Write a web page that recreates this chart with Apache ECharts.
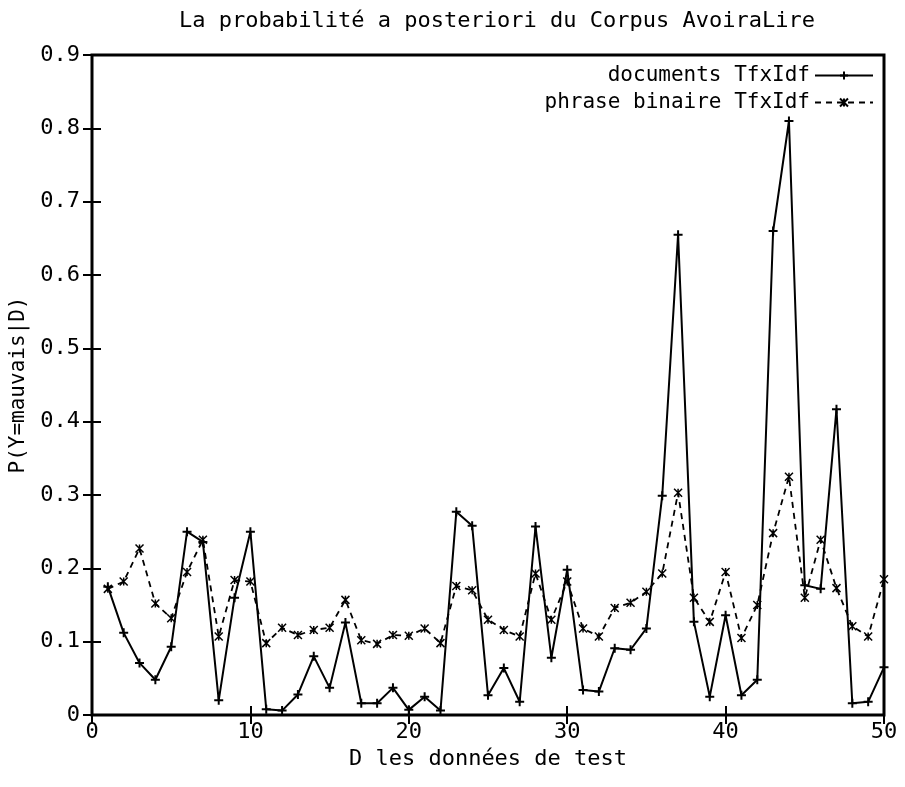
<!DOCTYPE html>
<html>
<head>
<meta charset="utf-8">
<script src="https://cdn.jsdelivr.net/npm/echarts@6/dist/echarts.min.js"></script>
<style>html,body{margin:0;padding:0;background:#fff;}#c{width:905px;height:787px;}</style>
</head>
<body>
<div id="c"></div>
<script>
const xValues = [1,2,3,4,5,6,7,8,9,10,11,12,13,14,15,16,17,18,19,20,21,22,23,24,25,26,27,28,29,30,31,32,33,34,35,36,37,38,39,40,41,42,43,44,45,46,47,48,49,50];
const documentsTfxIdf = [0.175,0.112,0.071,0.048,0.093,0.25,0.236,0.02,0.16,0.25,0.008,0.006,0.028,0.08,0.037,0.126,0.016,0.016,0.037,0.007,0.025,0.006,0.277,0.258,0.027,0.064,0.018,0.257,0.078,0.198,0.034,0.032,0.091,0.089,0.118,0.299,0.655,0.127,0.025,0.136,0.027,0.048,0.66,0.81,0.177,0.172,0.417,0.016,0.018,0.065];
const phraseBinaireTfxIdf = [0.172,0.182,0.227,0.152,0.132,0.195,0.239,0.107,0.184,0.182,0.098,0.119,0.109,0.116,0.119,0.157,0.102,0.097,0.109,0.108,0.118,0.098,0.176,0.17,0.13,0.116,0.107,0.193,0.13,0.182,0.118,0.107,0.146,0.153,0.168,0.193,0.303,0.16,0.127,0.195,0.105,0.15,0.248,0.325,0.16,0.239,0.173,0.121,0.107,0.185];
const seriesNames = ['documents TfxIdf','phrase binaire TfxIdf'];
const yTicks = [0,0.1,0.2,0.3,0.4,0.5,0.6,0.7,0.8,0.9];
const xTicks = [0,10,20,30,40,50];

const FONT = 'DejaVu Sans Mono';
const plusSym = 'path://M5,0L5,10M0,5L10,5';
const crossSym = 'path://M0,0L10,10M10,0L0,10M5,0L5,10';

const chart = echarts.init(document.getElementById('c'), null, {renderer:'canvas'});
const pairs = (ys) => xValues.map((x,i)=>[x, ys[i]]);
chart.setOption({
  backgroundColor:'#fff',
  animation:false,
  title:{text:'La probabilité a posteriori du Corpus AvoiraLire', left:492, textAlign:'center', top:5,
    textStyle:{fontFamily:FONT, fontSize:22, fontWeight:'normal', color:'#000'}},
  grid:{left:92, right:21, top:55, bottom:72, show:true, borderColor:'#000', borderWidth:3, backgroundColor:'transparent'},
  legend:{
    orient:'vertical', right:26, top:60, align:'right', itemWidth:58, itemHeight:10, itemGap:6,
    textStyle:{fontFamily:FONT, fontSize:21, color:'#000', padding:[0,0,0,0]},
    data:seriesNames
  },
  xAxis:[{
    type:'value', min:0, max:50, interval:10,
    axisLine:{show:false},
    axisTick:{show:true, inside:true, length:9, lineStyle:{color:'#000', width:2}},
    axisLabel:{fontFamily:FONT, fontSize:22, color:'#000', margin:6},
    splitLine:{show:false},
    name:'D les données de test', nameLocation:'middle', nameGap:25,
    nameTextStyle:{fontFamily:FONT, fontSize:22, color:'#000'}
  },{
    type:'value', position:'top', min:0, max:50, interval:10,
    axisLine:{show:false}, axisLabel:{show:false}, splitLine:{show:false},
    axisTick:{show:true, inside:true, length:9, lineStyle:{color:'#000', width:2}}
  }],
  yAxis:[{
    type:'value', min:0, max:0.9, interval:0.1,
    axisLine:{show:false},
    axisTick:{show:true, inside:true, length:9, lineStyle:{color:'#000', width:2}},
    axisLabel:{fontFamily:FONT, fontSize:22, color:'#000', margin:12, formatter:(v)=> (Math.round(v*10)/10).toString()},
    splitLine:{show:false},
    name:'P(Y=mauvais|D)', nameLocation:'middle', nameRotate:90, nameGap:62,
    nameTextStyle:{fontFamily:FONT, fontSize:21, color:'#000'}
  },{
    type:'value', position:'right', min:0, max:0.9, interval:0.1,
    axisLine:{show:false}, axisLabel:{show:false}, splitLine:{show:false},
    axisTick:{show:true, inside:true, length:9, lineStyle:{color:'#000', width:2}}
  }],
  series:[{
    name:seriesNames[0], type:'line', data:pairs(documentsTfxIdf),
    symbol:plusSym, symbolSize:9, showSymbol:true,
    lineStyle:{color:'#000', width:2},
    itemStyle:{color:'#000', borderColor:'#000', borderWidth:2}
  },{
    name:seriesNames[1], type:'line', data:pairs(phraseBinaireTfxIdf),
    symbol:crossSym, symbolSize:8, showSymbol:true,
    lineStyle:{color:'#000', width:1.8, type:[6,5]},
    itemStyle:{color:'#000', borderColor:'#000', borderWidth:1.5}
  }]
});
</script>
</body>
</html>
